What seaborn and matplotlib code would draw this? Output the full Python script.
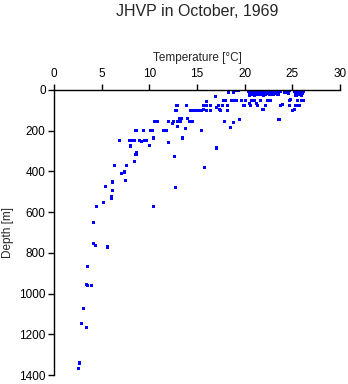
import matplotlib
matplotlib.use("Agg")
import matplotlib.pyplot as plt
import seaborn as sns
import pandas as pd

sns.set_style("ticks")
plt.rcParams['font.family'] = ['Liberation Sans', 'DejaVu Sans']

temperature = [
    2.53, 2.63, 2.88, 3.4, 3.05, 3.37, 3.47, 3.97, 3.47, 4.1, 4.1, 4.4, 5.6, 4.5, 5.23, 6.0, 6.0, 6.1, 5.37, 6.1,
    7.47, 7.05, 7.37, 6.36, 7.6, 8.4, 12.7, 10.4, 15.8,
    8.6, 8.7, 8.04, 7.9, 8.2, 8.4, 6.84, 9.0, 9.2, 9.5, 9.7, 8.6, 9.4, 10.0, 10.1, 10.35, 10.4, 10.5, 10.9, 11.5, 11.8,
    12.0, 12.0, 12.4, 12.5, 12.6, 12.8, 12.9, 12.95, 13.0, 13.2, 13.3, 13.4, 13.5, 13.8, 13.9, 14.0, 14.2, 14.5, 14.3, 14.6,
    15.0, 15.3, 15.5, 15.5, 15.7, 15.7, 16.0, 16.4, 15.96, 16.0, 16.4, 17.0, 16.95, 17.0, 17.3, 17.4, 17.5, 17.7, 17.8, 18.0,
    17.9, 18.2, 18.2, 18.3, 18.5, 18.6, 18.9, 19.1, 18.8, 18.8, 19.2, 19.4, 19.5, 19.7, 20.1, 19.96, 20.5, 20.7, 21.3, 21.9,
    22.2, 22.4, 22.7, 23.6, 23.8, 24.5, 24.7, 24.7, 25.05, 25.2, 25.3, 25.5, 25.7, 26.0, 26.2, 24.8, 24.0, 21.0, 21.7, 22.0,
    19.9, 20.6, 21.2,
    20.4, 20.5, 20.6, 20.7, 20.8, 20.9, 21.0, 21.1, 21.2, 21.3, 21.4, 21.5, 21.6, 21.7, 21.8, 21.9, 22.0, 22.1, 22.2, 22.3,
    22.4, 22.5, 22.6, 22.7, 22.8, 22.9, 23.0, 23.1, 23.2, 23.4, 23.6, 23.8, 23.5, 24.2, 24.4, 24.6, 24.7, 25.2, 25.3, 25.4,
    25.5, 25.6, 25.7, 25.8, 25.9, 26.0, 26.1, 26.2, 25.3, 26.0, 20.5, 21.0, 22.0, 23.0,
    20.6, 21.1, 21.6, 22.1, 22.6, 23.1, 21.4, 21.9, 22.4, 22.9,
]
depth = [
    1367, 1341, 1149, 1166, 1072, 954, 961, 961, 869, 652, 753, 763, 771, 571, 552, 524, 532, 493, 475, 452,
    444, 409, 403, 370, 370, 350, 481, 571, 381,
    317, 309, 275, 249, 249, 249, 249, 249, 252, 249, 249, 200, 200, 273, 200, 200, 236, 153, 153, 200, 200,
    153, 259, 163, 153, 328, 102, 75, 179, 153, 141, 153, 141, 236, 187, 75, 141, 153, 153, 102, 102,
    102, 102, 200, 102, 94, 75, 75, 75, 55, 102, 102, 285, 34, 86, 75, 94, 102, 75, 50, 50,
    153, 75, 102, 13, 184, 50, 50, 50, 160, 13, 3, 0, 143, 50, 50, 75, 65, 50, 75, 94,
    75, 50, 50, 143, 75, 13, 50, 75, 101, 94, 75, 50, 75, 50, 50, 47, 72, 52, 52, 96,
    78, 78, 68,
    5, 12, 20, 8, 22, 3, 15, 8, 22, 0, 12, 20, 5, 15, 8, 22, 0, 12, 20, 5,
    15, 8, 22, 5, 12, 20, 8, 15, 0, 12, 5, 8, 20, 12, 5, 15, 0, 5, 15, 25,
    8, 20, 0, 12, 22, 5, 15, 8, 25, 25, 28, 25, 25, 22,
    0, 5, 0, 5, 0, 5, 18, 18, 18, 18,
]

df = pd.DataFrame({"Temperature": temperature, "Depth": depth})

fig = plt.figure(figsize=(3.48, 3.84), dpi=100)
ax = fig.add_axes([54 / 348, 1 - 375 / 384, 286 / 348, 285 / 384])
sns.scatterplot(data=df, x="Temperature", y="Depth", ax=ax, marker="s", s=5,
                color="#0000ff", linewidth=0, edgecolor="none")

ax.set_xlim(0, 30)
ax.set_ylim(1400, 0)
ax.set_xticks([0, 5, 10, 15, 20, 25, 30])
ax.set_yticks([0, 200, 400, 600, 800, 1000, 1200, 1400])
ax.xaxis.tick_top()
ax.xaxis.set_label_position("top")
ax.spines["bottom"].set_visible(False)
ax.spines["right"].set_visible(False)
for s in ["top", "left"]:
    ax.spines[s].set_linewidth(1.0)
    ax.spines[s].set_color("black")
ax.tick_params(axis="both", direction="out", length=4, width=1, labelsize=8.5, pad=2, colors="black")
ax.tick_params(axis="x", pad=3.5)
ax.set_xlabel("Temperature [°C]", fontsize=8.5, labelpad=5)
ax.set_ylabel("Depth [m]", fontsize=8.5, labelpad=4)
fig.text(197 / 348, 1 - 12 / 384, "JHVP in October, 1969", ha="center", va="center", fontsize=11.5)

fig.savefig("out.png", dpi=100)
